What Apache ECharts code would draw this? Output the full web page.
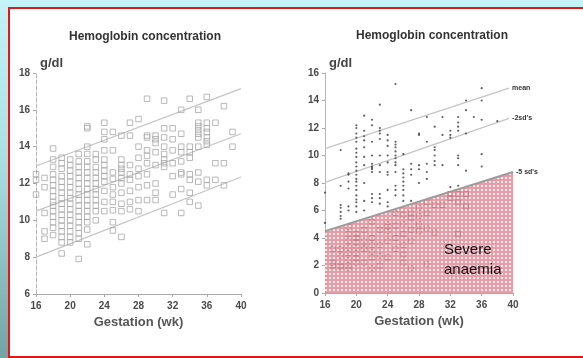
<!DOCTYPE html>
<html>
<head>
<meta charset="utf-8">
<script src="https://cdn.jsdelivr.net/npm/echarts@6/dist/echarts.min.js"></script>
<style>
  html, body { margin: 0; padding: 0; }
  body {
    width: 583px; height: 358px; overflow: hidden; position: relative;
    background: linear-gradient(to bottom, #c3f3f7 0%, #a9dfe3 45%, #73a3a4 100%);
  }
  .frame {
    position: absolute; left: 8px; top: 7px; width: 590px; height: 347px;
    border: 2px solid #e01818; background: #ffffff;
  }
  #chart { position: absolute; left: 0; top: 0; width: 583px; height: 358px; }
</style>
</head>
<body>
<div class="frame"></div>
<div id="chart"></div>
<script>
// Left panel: hemoglobin (g/dl) by gestation week, squares
const leftWeeks = [16, 17, 18, 19, 20, 21, 22, 23, 24, 25, 26, 27, 28, 29, 30, 31, 32, 33, 34, 35, 36, 37, 38, 39];
const leftHb = [
    [12.5, 12.2, 11.4],
    [12.3, 11.8, 10.4, 9.4, 9.0],
    [13.9, 13.3, 12.9, 12.5, 12.2, 11.9, 11.6, 11.3, 11.0, 10.8, 10.5, 10.2, 9.9, 9.6, 9.2],
    [13.4, 13.1, 12.8, 12.4, 12.1, 11.8, 11.5, 11.2, 10.9, 10.6, 10.3, 10.0, 9.7, 9.4, 9.1, 8.8, 8.2],
    [13.3, 13.0, 12.7, 12.4, 12.1, 11.8, 11.5, 11.2, 10.9, 10.6, 10.3, 10.0, 9.7, 9.4, 9.1, 8.8],
    [13.6, 13.2, 12.9, 12.6, 12.3, 12.0, 11.7, 11.4, 11.1, 10.8, 10.5, 10.2, 9.9, 9.6, 9.3, 9.0, 7.9],
    [15.1, 15.0, 14.0, 13.6, 13.2, 12.9, 12.6, 12.3, 12.0, 11.7, 11.4, 11.1, 10.8, 10.5, 10.2, 9.9, 9.5, 8.7],
    [13.6, 13.3, 12.9, 12.6, 12.3, 12.0, 11.7, 11.4, 11.1, 10.8, 10.5, 10.0],
    [15.3, 14.8, 14.4, 13.8, 13.3, 13.0, 12.7, 12.4, 12.1, 11.6, 11.0, 10.5],
    [14.8, 13.8, 12.6, 12.25, 11.8, 11.4, 11.0, 10.55, 9.9, 9.45],
    [14.6, 13.3, 13.0, 12.8, 12.6, 12.3, 12.0, 11.5, 10.9, 10.5, 9.1],
    [15.3, 14.6, 13.0, 12.5, 12.2, 11.6, 11.0, 10.6],
    [15.5, 14.0, 13.4, 12.8, 12.4, 11.8, 11.1, 10.5],
    [16.6, 14.6, 14.5, 13.8, 13.5, 13.1, 12.5, 11.9, 11.1],
    [14.6, 14.4, 14.2, 13.7, 13.0, 12.0, 11.5, 11.1],
    [16.5, 15.0, 14.5, 14.0, 13.6, 13.3, 13.1, 12.9, 10.4],
    [15.0, 14.4, 13.8, 13.1, 12.4, 11.4],
    [16.0, 14.7, 14.0, 13.7, 13.2, 12.6, 12.5, 11.7, 10.4],
    [16.6, 14.0, 13.7, 13.4, 12.5, 12.2, 11.5, 11.0],
    [16.0, 15.3, 15.1, 14.9, 14.7, 14.5, 14.0, 12.6, 12.1, 10.8],
    [16.7, 15.3, 15.0, 14.8, 14.5, 14.3, 14.1, 12.2, 11.9],
    [15.3, 13.1, 12.2],
    [16.2, 13.1, 11.9],
    [14.8, 14.0]
];
// left reference lines: value at week 16 and week 40
const leftLineStart = [12.95, 10.5, 8.0];
const leftLineEnd = [17.15, 14.7, 12.35];

// Right panel: dots above the severe anaemia line
const rightWeeks = [16, 18, 19, 20, 21, 22, 23, 24, 25, 26, 27, 28, 29, 30, 31, 32, 33, 34, 35, 36, 38];
const rightHb = [
    [7.3, 5.1],
    [10.4, 7.8, 6.4, 6.2, 5.9, 5.6, 5.4],
    [8.7, 8.6, 8.1, 7.6, 6.3, 6.0],
    [12.2, 12.0, 11.6, 11.3, 11.0, 10.5, 10.2, 9.9, 9.5, 9.2, 8.9, 8.6, 8.3, 8.1, 7.8, 7.5, 7.1, 6.8, 6.6, 6.3, 5.9],
    [12.9, 11.8, 11.4, 11.1, 10.6, 9.9, 9.3, 8.0, 6.7, 6.0],
    [12.6, 12.2, 11.0, 10.0, 9.4, 9.2, 9.1, 9.0, 8.8, 7.2, 6.9, 6.6],
    [13.7, 12.0, 11.8, 11.6, 11.2, 10.0, 9.3, 8.8, 7.2, 6.9, 6.5],
    [11.5, 11.1, 10.7, 10.0, 9.5, 8.8, 8.6, 7.5, 6.6, 6.3],
    [15.2, 11.0, 10.8, 10.6, 10.3, 10.0, 9.8, 9.5, 9.3, 8.8, 7.8, 7.5, 7.1],
    [10.1, 9.0, 8.7, 8.4, 8.1, 7.8, 7.5, 7.1, 6.7],
    [13.3, 9.4, 9.0, 8.6, 6.7],
    [11.6, 11.5, 9.3, 9.0, 8.0],
    [12.8, 11.0, 9.4, 8.8, 8.3],
    [12.1, 10.6, 10.4, 10.0, 9.6, 9.3],
    [12.8, 11.5, 9.3],
    [11.8, 11.5, 11.3, 7.7],
    [12.8, 12.4, 12.1, 11.8, 10.0, 9.8, 9.3, 7.8],
    [14.0, 13.3, 11.6, 8.9],
    [12.8],
    [14.9, 14.0, 12.6, 10.1, 9.2],
    [12.5]
];
// Right panel: faded points inside the shaded region
const lowWeeks = [17, 18, 19, 20, 21, 22, 23, 24, 25, 26, 27, 28, 29, 30, 31, 32, 33, 34];
const lowHb = [
    [3.2, 2.2, 2.0],
    [3.2, 2.7, 2.0, 1.9],
    [4.8, 4.3, 3.8, 3.3, 2.9, 2.4, 2.0, 1.8],
    [4.3, 4.0, 3.7, 3.3, 2.9, 2.5, 2.2],
    [4.6, 3.8, 3.3, 3.2, 2.2],
    [5.2, 4.0, 3.5, 3.0, 2.6, 1.8],
    [4.6, 3.5, 2.7, 2.0],
    [5.0, 4.8, 4.5, 3.8, 2.6],
    [5.8, 4.9, 4.0, 3.2],
    [5.7, 5.0, 4.3, 3.5, 2.8, 2.2],
    [5.8, 5.5, 4.6, 3.8, 1.8],
    [6.2, 5.6, 5.0, 4.5],
    [6.6, 5.8, 4.7, 2.1],
    [6.4, 4.4],
    [6.4],
    [7.2, 6.9],
    [7.2, 6.6, 4.3],
    [7.2, 6.3]
];
// right reference lines: start/end week and start/end value
const rightLineNames = ['mean', "-2sd's", "-5 sd's"];
const rightLineWeeks = [[16, 39.5], [16, 39.5], [16, 40]];
const rightLineValues = [[10.5, 14.9], [8.05, 12.7], [4.5, 8.8]];

const xTicks = ['16', '20', '24', '28', '32', '36', '40'];

function pairs(weeks, values) {
    const out = [];
    weeks.forEach((w, i) => values[i].forEach(v => out.push([w, v])));
    return out;
}

// petit motif rose à points blancs pour la zone d'anémie sévère
function dotPattern() {
    const c = document.createElement('canvas');
    c.width = 4; c.height = 4;
    const ctx = c.getContext('2d');
    ctx.fillStyle = '#e4848f';
    ctx.fillRect(0, 0, 4, 4);
    ctx.fillStyle = '#fbeef0';
    ctx.fillRect(1, 1, 2, 2);
    return c;
}

const chart = echarts.init(document.getElementById('chart'));

const font = 'Liberation Sans, Arial, sans-serif';
const tickLabel = { color: '#4a4a4a', fontSize: 10, fontWeight: 'bold', fontFamily: font };
const axisName = { color: '#555', fontSize: 13, fontWeight: 'bold', fontFamily: font };

function xAxisFor(gridIndex) {
    return {
        type: 'value', gridIndex: gridIndex, min: 16, max: 40, interval: 4,
        name: 'Gestation (wk)', nameLocation: 'middle', nameGap: 20,
        nameTextStyle: axisName,
        axisLine: { show: true, lineStyle: { color: '#aaa', width: 1 } },
        axisTick: { show: true, length: 3, lineStyle: { color: '#aaa' } },
        axisLabel: Object.assign({ margin: 7, formatter: v => xTicks.includes(String(v)) ? String(v) : '' }, tickLabel),
        splitLine: { show: false }
    };
}

function yAxisFor(gridIndex, min, max, lineType) {
    return {
        type: 'value', gridIndex: gridIndex, min: min, max: max, interval: 2,
        name: 'g/dl', nameLocation: 'end', nameGap: 3,
        nameTextStyle: Object.assign({}, axisName, { align: 'left', verticalAlign: 'bottom', padding: [0, 0, 0, 4], color: '#444' }),
        axisLine: { show: true, lineStyle: { color: '#b5b5b5', width: 1, type: lineType } },
        axisTick: { show: true, length: 3, lineStyle: { color: '#aaa' } },
        axisLabel: Object.assign({ margin: 6 }, tickLabel),
        splitLine: { show: false }
    };
}

const series = [];

// carrés du panneau de gauche
series.push({
    type: 'scatter', xAxisIndex: 0, yAxisIndex: 0,
    symbol: 'rect', symbolSize: 5.5,
    itemStyle: { color: 'rgba(255,255,255,0)', borderColor: '#a8a8a8', borderWidth: 1 },
    data: pairs(leftWeeks, leftHb),
    silent: true, z: 3
});

leftLineStart.forEach((v, i) => {
    series.push({
        type: 'line', xAxisIndex: 0, yAxisIndex: 0,
        data: [[16, v], [40, leftLineEnd[i]]],
        symbol: 'none', lineStyle: { color: '#c4c4c4', width: 1.2 },
        silent: true, z: 2
    });
});

// points estompés sous la zone rose
series.push({
    type: 'scatter', xAxisIndex: 1, yAxisIndex: 1,
    symbol: 'rect', symbolSize: 5,
    itemStyle: { color: 'rgba(255,255,255,0)', borderColor: '#555', borderWidth: 1 },
    data: pairs(lowWeeks, lowHb),
    silent: true, z: 2
});

rightLineNames.forEach((name, i) => {
    const isArea = i === 2;
    series.push({
        type: 'line', name: name, xAxisIndex: 1, yAxisIndex: 1,
        data: [[rightLineWeeks[i][0], rightLineValues[i][0]], [rightLineWeeks[i][1], rightLineValues[i][1]]],
        symbol: 'none',
        lineStyle: { color: isArea ? '#9c9c9c' : '#c4c4c4', width: isArea ? 2 : 1.2 },
        areaStyle: isArea ? { color: { image: dotPattern(), repeat: 'repeat' }, opacity: 0.8 } : undefined,
        endLabel: {
            show: true, formatter: name, distance: 3,
            color: '#333', fontSize: 7, fontWeight: 'bold', fontFamily: font
        },
        silent: true, z: isArea ? 4 : 2
    });
});

// points foncés du panneau de droite
series.push({
    type: 'scatter', xAxisIndex: 1, yAxisIndex: 1,
    symbol: 'circle', symbolSize: 2.2,
    itemStyle: { color: '#3a3a3a' },
    data: pairs(rightWeeks, rightHb),
    silent: true, z: 5
});

const option = {
    backgroundColor: 'transparent',
    animation: false,
    title: [
        { text: 'Hemoglobin concentration', left: 140, top: 26, textAlign: 'center',
          textStyle: { color: '#333', fontSize: 12, fontWeight: 'bold', fontFamily: font } },
        { text: 'Hemoglobin concentration', left: 427, top: 25, textAlign: 'center',
          textStyle: { color: '#333', fontSize: 12, fontWeight: 'bold', fontFamily: font } }
    ],
    grid: [
        { left: 36, top: 73, width: 205, height: 221 },
        { left: 325, top: 73, width: 188, height: 220 }
    ],
    xAxis: [xAxisFor(0), xAxisFor(1)],
    yAxis: [yAxisFor(0, 6, 18, 'dashed'), yAxisFor(1, 0, 16, 'solid')],
    series: series,
    graphic: [{
        type: 'text', left: 444, top: 240, z: 10,
        style: { text: 'Severe\nanaemia', font: '15px Liberation Sans, Arial, sans-serif', fill: '#111', lineHeight: 20 }
    }]
};

chart.setOption(option);
</script>
</body>
</html>
